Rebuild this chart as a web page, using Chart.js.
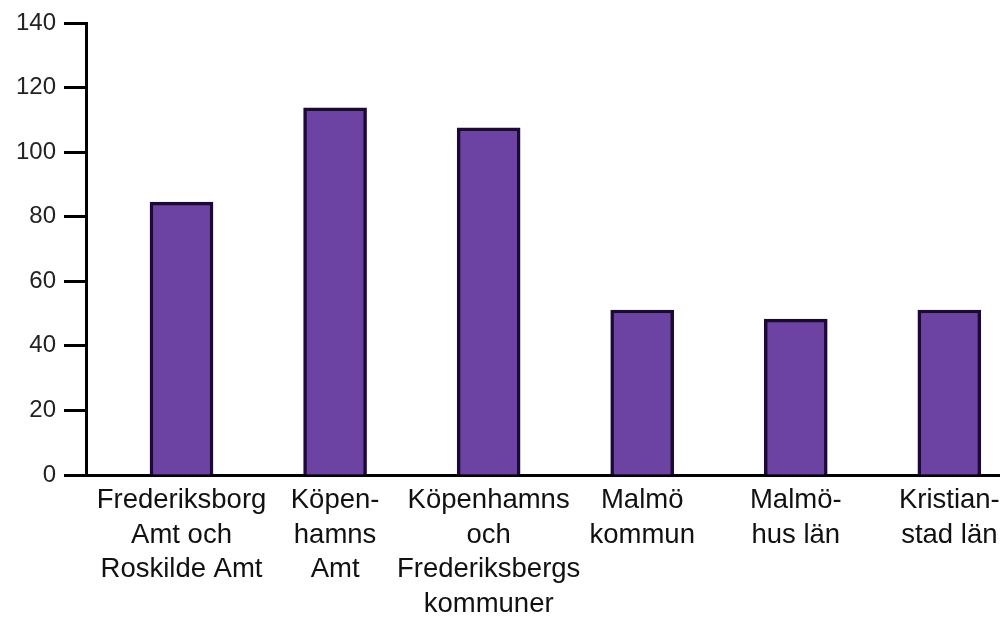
<!DOCTYPE html>
<html>
<head>
<meta charset="utf-8">
<script src="https://cdn.jsdelivr.net/npm/chart.js@4.4.1/dist/chart.umd.min.js"></script>
<style>
  html, body { margin: 0; padding: 0; background: #fff; }
  #wrap { width: 1000px; height: 617px; }
</style>
</head>
<body>
<div id="wrap"><canvas id="myChart"></canvas></div>
<script>
// regions (multi-line labels as in the original figure)
var regions = [
	['Frederiksborg', 'Amt och', 'Roskilde Amt'],
	['Köpen-', 'hamns', 'Amt'],
	['Köpenhamns', 'och', 'Frederiksbergs', 'kommuner'],
	['Malmö', 'kommun'],
	['Malmö-', 'hus län'],
	['Kristian-', 'stad län']
];
var counts = [84.5, 113.7, 107.5, 51.1, 48.3, 51.1];
var yTicks = [0, 20, 40, 60, 80, 100, 120, 140];

var points = [];
counts.forEach(function(v, k){
	points.push({x: k, y: v});
});

var ctx = document.getElementById('myChart');
var myChart = new Chart(ctx, {
	type: 'bar',
	data: {
		datasets: [{
			data: points,
			backgroundColor: '#6c43a2',
			borderColor: '#1c0938',
			borderWidth: 3.5,
			barThickness: 63
		}]
	},
	options: {
		responsive: true,
		maintainAspectRatio: false,
		animation: false,
		layout: {
			padding: { top: 23, right: 0, left: 0, bottom: 0 }
		},
		plugins: {
			legend: { display: false },
			tooltip: { enabled: false }
		},
		scales: {
			x: {
				type: 'linear',
				offset: false,
				min: -0.622,
				max: 5.33,
				grid: { display: false, drawTicks: false, offset: false },
				border: { display: true, color: '#000', width: 3 },
				afterBuildTicks: function(scale){
					scale.ticks = regions.map(function(r, i){ return {value: i}; });
				},
				afterFit: function(scale){
					scale.height = 142;
					scale.paddingLeft = 0;
					scale.paddingRight = 0;
				},
				ticks: {
					autoSkip: false,
					maxRotation: 0,
					padding: 8,
					color: '#111',
					font: { family: '"Liberation Sans", Arial, sans-serif', size: 27.5, lineHeight: 1.26 },
					callback: function(value){
						return regions[value];
					}
				}
			},
			y: {
				min: 0,
				max: 140,
				afterBuildTicks: function(scale){
					scale.ticks = yTicks.map(function(v){ return {value: v}; });
				},
				afterFit: function(scale){
					scale.width = 86;
					scale.paddingTop = 0;
					scale.paddingBottom = 0;
				},
				grid: {
					drawOnChartArea: false,
					drawTicks: true,
					tickLength: 22,
					tickWidth: 3,
					tickColor: '#000'
				},
				border: { display: true, color: '#000', width: 3 },
				ticks: {
					padding: 8,
					color: '#222',
					font: { family: '"Liberation Sans", Arial, sans-serif', size: 24 }
				}
			}
		}
	}
});
</script>
</body>
</html>
